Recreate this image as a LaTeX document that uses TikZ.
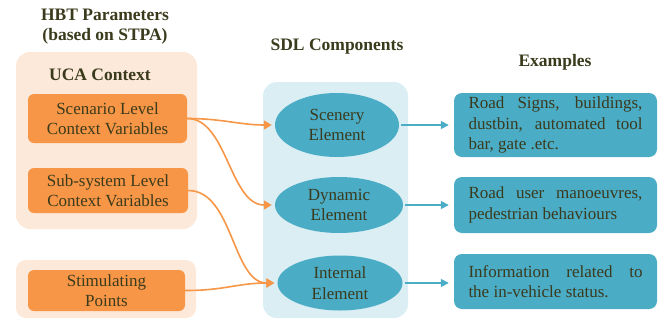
\documentclass[tikz,border=0pt]{standalone}
\usepackage{fontspec}
\setmainfont{Liberation Serif}
\usetikzlibrary{shapes.geometric,arrows.meta}

\definecolor{txt}{HTML}{3A3A1C}
\definecolor{orangefill}{HTML}{F79646}
\definecolor{peach}{HTML}{FDE9D9}
\definecolor{tealfill}{HTML}{4BACC6}
\definecolor{paleblue}{HTML}{DAEEF3}

\tikzset{
  heading/.style={font=\fontsize{17.5}{20}\selectfont\bfseries, text=txt, align=center, inner sep=0pt},
  body/.style={font=\fontsize{17}{20.5}\selectfont, text=txt},
  panel/.style={fill=peach, draw=none, rounded corners=14pt},
  ctxbox/.style={body, fill=orangefill, draw=none, rounded corners=6pt, align=center, inner sep=0pt},
  sdlpanel/.style={fill=paleblue, draw=none, rounded corners=14pt},
  element/.style={body, ellipse, fill=tealfill, draw=none, align=center, inner sep=0pt},
  exbox/.style={body, fill=tealfill, draw=none, rounded corners=8pt, inner sep=0pt,
                minimum width=203pt, text width=174pt, align=justify},
  orangearrow/.style={draw=orangefill, line width=1.6pt,
                      -{Triangle[length=8pt,width=9pt]}, shorten >=3pt},
  bluearrow/.style={draw=tealfill, line width=1.5pt,
                    -{Triangle[length=8pt,width=8pt]}, shorten >=5pt, shorten <=2pt},
}

\begin{document}
\begin{tikzpicture}[x=1pt,y=-1pt]
  \useasboundingbox (0,0) rectangle (665,322);

  % background panels
  \path[panel] (16,52) rectangle (197,229);
  \path[panel, rounded corners=10pt] (16,260) rectangle (196,318);
  \path[sdlpanel] (263,82) rectangle (408,318);

  % headings
  \node[heading] (hbt) at (105,27) {HBT Parameters\\(based on STPA)};
  \node[heading] (uca) at (100,75) {UCA Context};
  \node[heading] (sdl) at (337,47) {SDL Components};
  \node[heading] (ex)  at (555,62) {Examples};

  % HBT parameter boxes
  \node[ctxbox, minimum width=159pt, minimum height=49pt] (scen) at (107.5,118.5)
       {Scenario Level\\Context Variables};
  \node[ctxbox, minimum width=160pt, minimum height=45pt] (sub) at (108,190.5)
       {Sub-system Level\\Context Variables};
  \node[ctxbox, minimum width=157pt, minimum height=41pt] (stim) at (106.5,290.5)
       {Stimulating\\Points};

  % SDL components
  \node[element, minimum width=124pt, minimum height=64pt] (scenery) at (337,125)
       {Scenery\\Element};
  \node[element, minimum width=128pt, minimum height=56pt] (dynamic) at (339,205)
       {Dynamic\\Element};
  \node[element, minimum width=125pt, minimum height=55pt] (internal) at (340,283)
       {Internal\\Element};

  % examples
  \node[exbox, minimum height=64pt] (ex1) at (555.5,125)
       {Road Signs, buildings,\linebreak dustbin, automated tool\linebreak bar, gate .etc.};
  \node[exbox, minimum height=56pt] (ex2) at (555.5,205)
       {Road user manoeuvres,\linebreak pedestrian behaviours};
  \node[exbox, minimum height=55pt] (ex3) at (555.5,281.5)
       {Information related to\linebreak the in-vehicle status.};

  % parameter -> component connectors
  \draw[orangearrow] (scen.east) .. controls +(35,0) and +(-35,0) .. (scenery.west);
  \draw[orangearrow] (scen.east) .. controls +(40,0) and +(-45,0) .. (dynamic.west);
  \draw[orangearrow] (sub.east) .. controls +(45,0) and +(-45,0) .. (internal.west);
  \draw[orangearrow] (stim.east) .. controls +(40,0) and +(-40,0) .. (internal.west);

  % component -> example connectors
  \draw[bluearrow] (scenery.east) -- (scenery.east -| ex1.west);
  \draw[bluearrow] (dynamic.east) -- (dynamic.east -| ex2.west);
  \draw[bluearrow] (internal.east) -- (internal.east -| ex3.west);
\end{tikzpicture}
\end{document}
